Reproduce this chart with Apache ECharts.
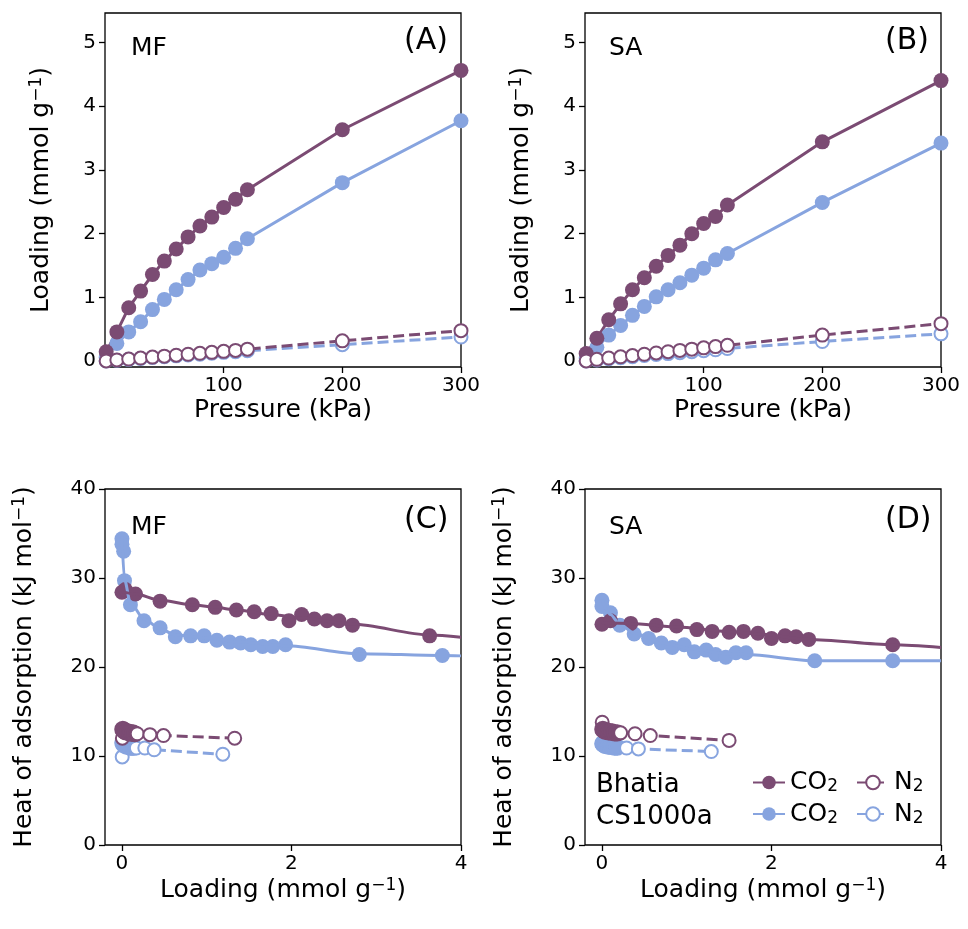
<!DOCTYPE html>
<html>
<head>
<meta charset="utf-8">
<script src="https://cdn.jsdelivr.net/npm/echarts@6/dist/echarts.min.js"></script>
<style>html,body{margin:0;padding:0;background:#fff;}#c{width:968px;height:929px;}</style>
</head>
<body>
<div id="c"></div>
<script>
// ---------- DATA ----------
// Panels A/B: pressure (kPa)
const pressure = [1,10,20,30,40,50,60,70,80,90,100,110,120,200,300];
// Panel A (MF) loadings (mmol/g)
const A_bCO2 = [0.15,0.46,0.84,1.10,1.36,1.57,1.76,1.95,2.12,2.26,2.41,2.54,2.69,3.63,4.56];
const A_cCO2 = [0.06,0.28,0.46,0.62,0.81,0.97,1.12,1.28,1.43,1.53,1.63,1.77,1.92,2.80,3.77];
const A_bN2  = [0.005,0.02,0.035,0.05,0.065,0.08,0.095,0.11,0.125,0.14,0.155,0.17,0.19,0.32,0.48];
const A_cN2  = [0.004,0.015,0.03,0.045,0.06,0.07,0.085,0.10,0.11,0.125,0.14,0.15,0.165,0.26,0.38];
// Panel B (SA) loadings (mmol/g)
const B_bCO2 = [0.12,0.36,0.65,0.90,1.12,1.31,1.49,1.66,1.82,2.00,2.16,2.27,2.45,3.44,4.40];
const B_cCO2 = [0.05,0.22,0.41,0.56,0.72,0.86,1.01,1.12,1.23,1.35,1.46,1.59,1.69,2.49,3.42];
const B_bN2  = [0.005,0.03,0.05,0.07,0.09,0.11,0.13,0.15,0.17,0.19,0.21,0.23,0.25,0.41,0.59];
const B_cN2  = [0.004,0.02,0.04,0.055,0.07,0.09,0.105,0.12,0.135,0.15,0.165,0.18,0.20,0.31,0.43];

// Panel C (MF): heat of adsorption (kJ/mol) vs loading (mmol/g)
const C_bCO2_x = [0.0,0.04,0.16,0.45,0.83,1.10,1.35,1.56,1.76,1.97,2.12,2.27,2.42,2.56,2.72,3.63];
const C_bCO2_y = [28.4,28.7,28.2,27.4,27.0,26.7,26.4,26.2,26.0,25.2,25.9,25.4,25.2,25.2,24.7,23.5];
const C_bCO2_fitx = [0,0.16,0.45,0.83,1.10,1.35,1.76,2.12,2.72,3.63,4.0];
const C_bCO2_fity = [28.5,28.2,27.5,27.0,26.7,26.4,25.9,25.5,24.8,23.6,23.35];
const C_cCO2_x = [0.0,0.0,0.02,0.03,0.10,0.26,0.45,0.63,0.81,0.97,1.12,1.27,1.40,1.52,1.66,1.78,1.93,2.80,3.78];
const C_cCO2_y = [34.4,33.8,33.0,29.7,27.0,25.2,24.4,23.4,23.5,23.5,23.0,22.8,22.7,22.5,22.3,22.3,22.5,21.4,21.3];
const C_cCO2_fitx = [0.0,0.03,0.10,0.26,0.45,0.63,0.97,1.40,1.93,2.80,3.78,4.0];
const C_cCO2_fity = [34.5,29.8,27.2,25.4,24.3,23.6,23.3,22.8,22.4,21.5,21.3,21.25];
const C_bN2_x = [0.005,0.01,0.02,0.03,0.05,0.07,0.09,0.11,0.13,0.15,0.18,0.33,0.49,1.33];
const C_bN2_y = [12.0,13.0,12.9,12.8,12.7,12.7,12.6,12.6,12.6,12.5,12.5,12.4,12.3,12.0];
const C_cN2_x = [0.003,0.01,0.02,0.04,0.06,0.08,0.10,0.12,0.14,0.17,0.27,0.38,1.19];
const C_cN2_y = [9.9,11.5,11.3,11.2,11.1,11.1,11.0,11.0,11.0,10.9,10.9,10.7,10.2];

// Panel D (SA)
const D_bCO2_x = [0.0,0.1,0.34,0.64,0.88,1.12,1.30,1.50,1.67,1.84,2.0,2.16,2.29,2.44,3.43];
const D_bCO2_y = [24.8,25.2,24.9,24.7,24.6,24.2,24.0,23.9,24.0,23.8,23.2,23.5,23.4,23.1,22.5];
const D_bCO2_fitx = [0,0.34,0.88,1.50,1.84,2.44,3.43,4.0];
const D_bCO2_fity = [25.0,24.9,24.5,24.0,23.7,23.1,22.5,22.2];
const D_cCO2_x = [0.0,0.0,0.1,0.21,0.38,0.55,0.70,0.83,0.97,1.09,1.23,1.34,1.46,1.58,1.70,2.51,3.43];
const D_cCO2_y = [27.5,26.8,26.1,24.7,23.7,23.2,22.7,22.2,22.5,21.7,21.9,21.4,21.1,21.6,21.6,20.7,20.7];
const D_cCO2_fitx = [0,0.1,0.21,0.38,0.70,1.09,1.46,1.70,2.51,3.43,4.0];
const D_cCO2_fity = [27.6,25.9,24.8,23.8,22.7,22.0,21.5,21.4,20.7,20.7,20.7];
const D_bN2_x = [0.003,0.01,0.02,0.04,0.06,0.08,0.10,0.12,0.15,0.18,0.22,0.39,0.57,1.50];
const D_bN2_y = [13.8,13.0,12.9,12.8,12.8,12.7,12.7,12.7,12.6,12.6,12.6,12.5,12.3,11.75];
const D_cN2_x = [0.003,0.01,0.02,0.04,0.06,0.08,0.10,0.12,0.15,0.18,0.29,0.43,1.29];
const D_cN2_y = [11.3,11.4,11.3,11.2,11.2,11.1,11.1,11.1,11.0,11.0,10.9,10.8,10.5];

// Tick labels
const pTicks = [100,200,300];
const loadTicks = [0,1,2,3,4,5];
const qTicks = [0,2,4];
const heatTicks = [0,10,20,30,40];

// ---------- STYLE ----------
const COL_B = '#7b4b73';
const COL_C = '#87a4df';
const FONT = 'DejaVu Sans';
const TICK_FS = 20, NAME_FS = 25;
const MS = 15, MS_OPEN = 13, LW = 3;
const zip = (xs, ys) => xs.map((x, i) => [x, ys[i]]);

const grids = [
  {left:105, top:13, width:356, height:354},
  {left:585, top:13, width:356, height:354},
  {left:105, top:489, width:356, height:356},
  {left:585, top:489, width:356, height:356}
].map(g => Object.assign(g, {show:true, borderColor:'#000', borderWidth:1.3, backgroundColor:'transparent'}));

const supRich = {sup:{fontSize:17, fontFamily:FONT, color:'#000', verticalAlign:'top', padding:[0,0,10,0]}};
function ax(i, min, max, ticks, name, gap) {
  return {type:'value', gridIndex:i, min, max, name, nameLocation:'middle', nameGap:gap,
    nameTextStyle:{fontSize:NAME_FS, fontFamily:FONT, color:'#000', rich:supRich},
    axisLine:{show:false, onZero:false}, splitLine:{show:false},
    axisTick:{show:true, customValues:ticks, length:6, lineStyle:{color:'#000', width:1.3}},
    axisLabel:{customValues:ticks, fontSize:TICK_FS, fontFamily:FONT, color:'#000', margin:9}};
}
const loadName = 'Loading (mmol g{sup|−1})';
const heatName = 'Heat of adsorption (kJ mol{sup|−1})';
const xAxes = [
  ax(0, 0, 300, pTicks, 'Pressure (kPa)', 31),
  ax(1, 0, 300, pTicks, 'Pressure (kPa)', 31),
  ax(2, -0.2, 4, qTicks, loadName, 32),
  ax(3, -0.2, 4, qTicks, loadName, 32)
];
const yAxes = [
  ax(0, -0.09, 5.46, loadTicks, loadName, 50),
  ax(1, -0.09, 5.46, loadTicks, loadName, 50),
  ax(2, 0, 40, heatTicks, heatName, 67),
  ax(3, 0, 40, heatTicks, heatName, 67)
];

const series = [];
function co2Line(name, idx, data, col) {
  series.push({type:'line', name, xAxisIndex:idx, yAxisIndex:idx, data, symbol:'circle', symbolSize:MS,
    showAllSymbol:true, smooth:false,
    lineStyle:{color:col, width:LW}, itemStyle:{color:col}, emphasis:{disabled:true}});
}
function n2Line(name, idx, data, col, fillMaxX) {
  const d = data.map((p, i) => (fillMaxX !== undefined && i > 0 && p[0] < fillMaxX)
    ? {value:p, symbol:'circle', symbolSize:MS_OPEN + 2, itemStyle:{color:col, borderColor:col}} : {value:p});
  series.push({type:'line', name, xAxisIndex:idx, yAxisIndex:idx, data:d, symbol:'emptyCircle', symbolSize:MS_OPEN,
    showAllSymbol:true, lineStyle:{color:col, width:LW, type:[11,5]},
    itemStyle:{color:col, borderColor:col, borderWidth:2.2}, emphasis:{disabled:true}});
}
function co2Fit(name, idx, data, col) {
  series.push({type:'line', name, xAxisIndex:idx, yAxisIndex:idx, data, showSymbol:false, symbol:'none',
    smooth:0.3, smoothMonotone:'x', lineStyle:{color:col, width:LW}, emphasis:{disabled:true}});
}
function co2Pts(name, idx, data, col) {
  series.push({type:'scatter', name, xAxisIndex:idx, yAxisIndex:idx, data, symbol:'circle', symbolSize:MS,
    itemStyle:{color:col, opacity:1}, emphasis:{disabled:true}});
}
// Panel A
co2Line('cCO2', 0, zip(pressure, A_cCO2), COL_C);
n2Line('cN2', 0, zip(pressure, A_cN2), COL_C);
co2Line('bCO2', 0, zip(pressure, A_bCO2), COL_B);
n2Line('bN2', 0, zip(pressure, A_bN2), COL_B);
// Panel B
co2Line('cCO2', 1, zip(pressure, B_cCO2), COL_C);
n2Line('cN2', 1, zip(pressure, B_cN2), COL_C);
co2Line('bCO2', 1, zip(pressure, B_bCO2), COL_B);
n2Line('bN2', 1, zip(pressure, B_bN2), COL_B);
// Panel C
co2Fit('cCO2 fit C', 2, zip(C_cCO2_fitx, C_cCO2_fity), COL_C);
co2Pts('cCO2 pts C', 2, zip(C_cCO2_x, C_cCO2_y), COL_C);
n2Line('cN2', 2, zip(C_cN2_x, C_cN2_y), COL_C, 0.16);
co2Fit('bCO2 fit C', 2, zip(C_bCO2_fitx, C_bCO2_fity), COL_B);
co2Pts('bCO2 pts C', 2, zip(C_bCO2_x, C_bCO2_y), COL_B);
n2Line('bN2', 2, zip(C_bN2_x, C_bN2_y), COL_B, 0.16);
// Panel D
co2Fit('cCO2 fit D', 3, zip(D_cCO2_fitx, D_cCO2_fity), COL_C);
co2Pts('cCO2 pts D', 3, zip(D_cCO2_x, D_cCO2_y), COL_C);
n2Line('cN2', 3, zip(D_cN2_x, D_cN2_y), COL_C, 0.2);
co2Fit('bCO2 fit D', 3, zip(D_bCO2_fitx, D_bCO2_fity), COL_B);
co2Pts('bCO2 pts D', 3, zip(D_bCO2_x, D_bCO2_y), COL_B);
n2Line('bN2', 3, zip(D_bN2_x, D_bN2_y), COL_B, 0.22);

const legRich = {m:{fontSize:25, fontFamily:FONT, color:'#000'}, s:{fontSize:17, fontFamily:FONT, color:'#000', verticalAlign:'bottom', padding:[9,0,0,0]}};
const legCommon = {orient:'vertical', itemWidth:32, itemHeight:17, itemGap:6, selectedMode:false,
  textStyle:{fontSize:25, fontFamily:FONT, color:'#000', rich:legRich}, padding:0};
const legends = [
  Object.assign({data:['bCO2','cCO2'], left:752, top:770, formatter:() => '{m|CO}{s|2}'}, legCommon),
  Object.assign({data:['bN2','cN2'], left:856, top:770, formatter:() => '{m|N}{s|2}'}, legCommon)
];

function txt(left, top, text, fs) {
  return {type:'text', left, top, style:{text, font:`${fs}px "${FONT}"`, fill:'#000'}};
}
const graphics = [
  txt(131, 36, 'MF', 25), txt(404, 26, '(A)', 30),
  txt(609, 36, 'SA', 25), txt(885, 26, '(B)', 30),
  txt(131, 515, 'MF', 25), txt(404, 505, '(C)', 30),
  txt(609, 515, 'SA', 25), txt(885, 505, '(D)', 30),
  txt(596, 772, 'Bhatia', 26), txt(596, 804, 'CS1000a', 26)
];

const chart = echarts.init(document.getElementById('c'), null, {renderer:'canvas'});
chart.setOption({
  animation:false,
  backgroundColor:'#fff',
  grid:grids, xAxis:xAxes, yAxis:yAxes, series, legend:legends, graphic:graphics
});
</script>
</body>
</html>
